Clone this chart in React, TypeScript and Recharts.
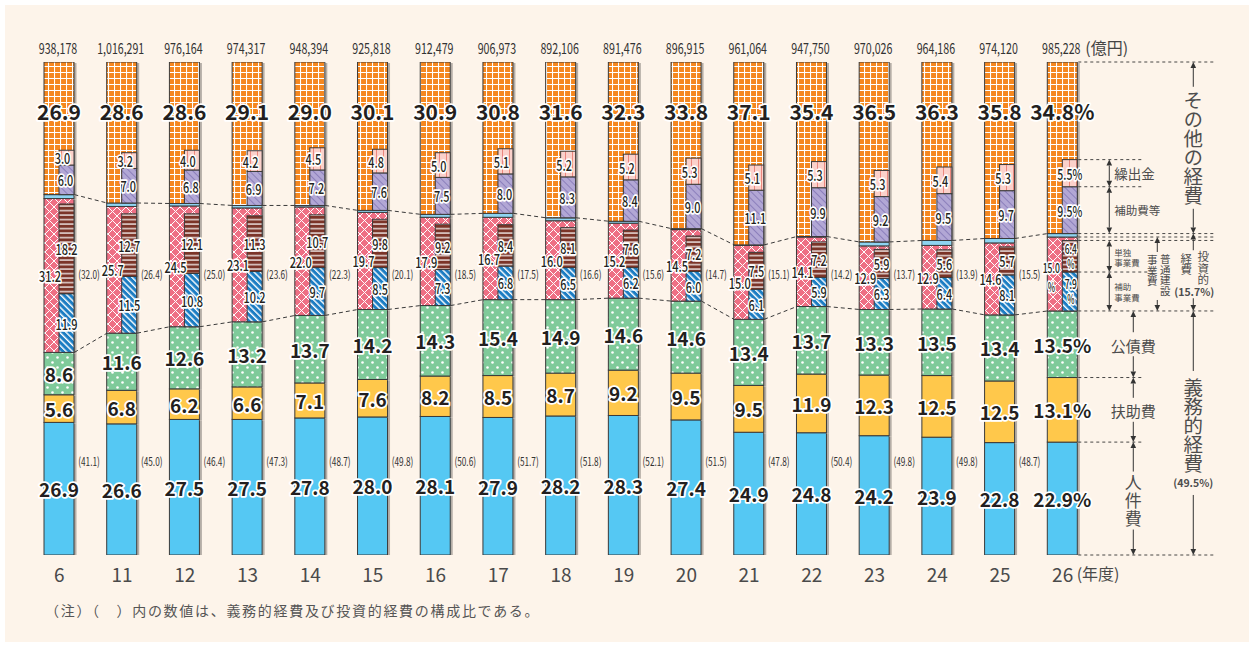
import React from "react";
import { ComposedChart, Bar, Line, XAxis, YAxis, LabelList } from "recharts";

// 年度と歳出総額（億円）
const years = ["6", "11", "12", "13", "14", "15", "16", "17", "18", "19", "20", "21", "22", "23", "24", "25", "26"];
const totals = ["938,178", "1,016,291", "976,164", "974,317", "948,394", "925,818", "912,479", "906,973", "892,106", "891,476", "896,915", "961,064", "947,750", "970,026", "964,186", "974,120", "985,228"];

// 構成比（％）
const personnel = [26.9, 26.6, 27.5, 27.5, 27.8, 28.0, 28.1, 27.9, 28.2, 28.3, 27.4, 24.9, 24.8, 24.2, 23.9, 22.8, 22.9];
const welfare = [5.6, 6.8, 6.2, 6.6, 7.1, 7.6, 8.2, 8.5, 8.7, 9.2, 9.5, 9.5, 11.9, 12.3, 12.5, 12.5, 13.1];
const debt = [8.6, 11.6, 12.6, 13.2, 13.7, 14.2, 14.3, 15.4, 14.9, 14.6, 14.6, 13.4, 13.7, 13.3, 13.5, 13.4, 13.5];
const mandatory = [41.1, 45.0, 46.4, 47.3, 48.7, 49.8, 50.6, 51.7, 51.8, 52.1, 51.5, 47.8, 50.4, 49.8, 49.8, 48.7, 49.5];
const investment = [32.0, 26.4, 25.0, 23.6, 22.3, 20.1, 18.5, 17.5, 16.6, 15.6, 14.7, 15.1, 14.2, 13.7, 13.9, 15.5, 15.7];
const publicWorks = [31.2, 25.7, 24.5, 23.1, 22.0, 19.7, 17.9, 16.7, 16.0, 15.2, 14.5, 15.0, 14.1, 12.9, 12.9, 14.6, 15.0];
const localWorks = [18.2, 12.7, 12.1, 11.3, 10.7, 9.8, 9.2, 8.4, 8.1, 7.6, 7.2, 7.5, 7.2, 5.9, 5.6, 5.7, 6.4];
const subsidizedWorks = [11.9, 11.5, 10.8, 10.2, 9.7, 8.5, 7.3, 6.8, 6.5, 6.2, 6.0, 6.1, 5.9, 6.3, 6.4, 8.1, 7.9];
const otherCosts = [26.9, 28.6, 28.6, 29.1, 29.0, 30.1, 30.9, 30.8, 31.6, 32.3, 33.8, 37.1, 35.4, 36.5, 36.3, 35.8, 34.8];
const subsidies = [6.0, 7.0, 6.8, 6.9, 7.2, 7.6, 7.5, 8.0, 8.3, 8.4, 9.0, 11.1, 9.9, 9.2, 9.5, 9.7, 9.5];
const transfers = [3.0, 3.2, 4.0, 4.2, 4.5, 4.8, 5.0, 5.1, 5.2, 5.2, 5.3, 5.1, 5.3, 5.3, 5.4, 5.3, 5.5];

const LAST = years.length - 1;
const FONT = "'Noto Sans CJK JP', 'Noto Sans', sans-serif";
const BAR = 30;

const rows = years.map((year, i) => {
  const mand = personnel[i] + welfare[i] + debt[i];
  const inv = investment[i];
  return {
    year,
    personnel: personnel[i],
    welfare: welfare[i],
    debt: debt[i],
    works: publicWorks[i],
    worksRest: inv - publicWorks[i],
    other: 100 - mand - inv,
    pad: mand,
    subsidized: subsidizedWorks[i],
    local: localWorks[i],
    gap: inv - subsidizedWorks[i] - localWorks[i],
    subsidies: subsidies[i],
    transfers: transfers[i],
    mandTop: mand,
    invTop: mand + inv,
  };
});

const fmt = (v: number) => v.toFixed(1);

// 詰めた数字の幅
const squeezeWidth = (s: string, dw: number, pw: number) => {
  let w = 0;
  for (const ch of s) {
    if (/[0-9]/.test(ch)) w += dw;
    else if (ch === "%") w += dw * 1.45;
    else w += pw;
  }
  return w;
};

const rectOf = (p: any) => {
  const vb = p.viewBox && p.viewBox.width != null ? p.viewBox : p;
  return { x: Number(vb.x), y: Number(vb.y), w: Number(vb.width), h: Number(vb.height), i: p.index as number };
};

function Halo({ x, y, size, children, weight = 700, len, anchor = "middle" }: any) {
  return (
    <text
      x={x}
      y={y}
      textAnchor={anchor}
      dominantBaseline="central"
      fontFamily={FONT}
      fontSize={size}
      fontWeight={weight}
      fill="#231f20"
      stroke="#fff"
      strokeWidth={3.5}
      strokeLinejoin="round"
      paintOrder="stroke"
      textLength={len}
      lengthAdjust={len ? "spacingAndGlyphs" : undefined}
    >
      {children}
    </text>
  );
}

const small = (x: number, y: number, s: string, dw = 6.4, size = 14.5) => (
  <Halo x={x} y={y} size={size} weight={500} len={squeezeWidth(s, dw, dw * 0.44)}>
    {s}
  </Halo>
);

// 棒の形
const solid = (fill: string) => (p: any) => {
  const { x, y, width, height } = p;
  if (!(height > 0)) return <g />;
  return (
    <g>
      <rect x={x + width} y={y + 1} width={2.5} height={height} fill="#b5aea7" />
      <rect x={x} y={y} width={width} height={height} fill={fill} stroke="#3a3a3a" strokeWidth={1} />
    </g>
  );
};
const half = (fill: string) => (p: any) => {
  const { x, y, width, height } = p;
  if (!(height > 0)) return <g />;
  return <rect x={x + width / 2} y={y} width={width / 2} height={height} fill={fill} stroke="#3a3a3a" strokeWidth={1} />;
};
const blank = () => <g />;

// 棒と棒の間をつなぐ破線
const connector = (p: any) => {
  const { cx, cy, index, points } = p;
  if (!points || index >= points.length - 1) return <g key={`c-${index}`} />;
  const next = points[index + 1];
  return (
    <line
      key={`c-${index}`}
      x1={cx + BAR / 2}
      y1={cy}
      x2={next.x - BAR / 2}
      y2={next.y}
      stroke="#3a3a3a"
      strokeWidth={1}
      strokeDasharray="4 3"
    />
  );
};

// ラベル
const centerLabel = (values: number[]) => (p: any) => {
  const r = rectOf(p);
  const s = fmt(values[r.i]) + (r.i === LAST ? "%" : "");
  return <Halo x={r.x + r.w / 2} y={r.y + r.h / 2} size={19}>{s}</Halo>;
};

const otherLabel = (p: any) => {
  const r = rectOf(p);
  const k = r.h / rows[r.i].other;
  const s = fmt(otherCosts[r.i]) + (r.i === LAST ? "%" : "");
  return (
    <Halo x={r.x + r.w / 2} y={r.y + 10 * k} size={21} weight={600}>
      {s}
    </Halo>
  );
};

const totalLabel = (p: any) => {
  const r = rectOf(p);
  const s = totals[r.i];
  return (
    <g>
      <text x={r.x + r.w / 2 - 1} y={r.y - 15} textAnchor="middle" dominantBaseline="central" fontFamily={FONT} fontSize={15} fill="#333"
        textLength={squeezeWidth(s, 6.0, 2.5)} lengthAdjust="spacingAndGlyphs">
        {s}
      </text>
      {r.i === LAST && (
        <text x={r.x + r.w + 8} y={r.y - 15} dominantBaseline="central" fontFamily={FONT} fontSize={16} fill="#444">
          (億円)
        </text>
      )}
    </g>
  );
};

const parenText = (x: number, y: number, s: string) => (
  <text x={x} y={y} textAnchor="middle" dominantBaseline="central" fontFamily={FONT} fontSize={11.5} fill="#333"
    textLength={squeezeWidth(s, 5, 2.2)} lengthAdjust="spacingAndGlyphs">
    {s}
  </text>
);

const mandatoryParen = (p: any) => {
  const r = rectOf(p);
  if (r.i === LAST) return null;
  const k = r.h / personnel[r.i];
  return parenText(r.x + r.w + 15, r.y + r.h - 19 * k, `(${fmt(mandatory[r.i])})`);
};

const investParen = (p: any) => {
  const r = rectOf(p);
  if (r.i === LAST) return null;
  const k = r.h / publicWorks[r.i];
  const start = rows[r.i].pad;
  return parenText(r.x + r.w + 15, r.y + r.h - (57 - start) * k, `(${fmt(investment[r.i])})`);
};

const worksLabel = (p: any) => {
  const r = rectOf(p);
  const cy = r.y + r.h / 2;
  if (r.i === LAST) {
    const cx = r.x + 4;
    return (
      <g>
        {small(cx, cy - 6, fmt(publicWorks[r.i]), 5, 13)}
        {small(cx, cy + 13, "%", 5, 13)}
      </g>
    );
  }
  return small(r.x + r.w / 2 - 9, cy, fmt(publicWorks[r.i]));
};

const subLabel = (values: number[], dx: number, split: boolean) => (p: any) => {
  const r = rectOf(p);
  const cy = r.y + r.h / 2;
  if (r.i === LAST) {
    const cx = r.x + r.w * 0.75 + 1;
    if (split) {
      return (
        <g>
          {small(cx, cy - 8, fmt(values[r.i]), 5, 13)}
          {small(cx, cy + 7, "%", 5, 13)}
        </g>
      );
    }
    return small(cx - 1, cy, fmt(values[r.i]) + "%");
  }
  return small(r.x + r.w * 0.75 + dx, cy, fmt(values[r.i]));
};

// 右側の凡例（最終年度の棒から位置を取る）
function Panel(p: any) {
  const r = rectOf(p);
  if (r.i !== LAST) return null;
  const i = LAST;
  const k = r.h / personnel[i];
  const base = r.y + r.h;
  const Y = (v: number) => base - v * k;
  const R = r.x + r.w;
  const c1 = personnel[i];
  const c2 = c1 + welfare[i];
  const c3 = c2 + debt[i];
  const c4 = c3 + subsidizedWorks[i];
  const c5 = c4 + localWorks[i];
  const c6 = c3 + publicWorks[i];
  const c7 = c3 + investment[i];
  const c8 = c7 + subsidies[i];
  const c9 = c8 + transfers[i];
  const farX = R + 138;
  const nearX = R + 64;
  const a1 = R + 32, a2 = R + 56, a3 = R + 80, a4 = R + 116;
  const ink = "#333";
  const txt = "#4d4d4d";
  const hs = 6, hw = 2.8;

  const dash = (v: number, x2: number, key: string) => (
    <line key={key} x1={R + 1} x2={x2} y1={Y(v)} y2={Y(v)} stroke={ink} strokeWidth={0.9} strokeDasharray="3 3" />
  );
  const arrow = (key: string, ax: number, yT: number, yB: number, gT?: number, gB?: number) => (
    <g key={key}>
      <polygon points={`${ax},${yT} ${ax - hw},${yT + hs} ${ax + hw},${yT + hs}`} fill={ink} />
      <polygon points={`${ax},${yB} ${ax - hw},${yB - hs} ${ax + hw},${yB - hs}`} fill={ink} />
      {gT == null || gB == null ? (
        <line x1={ax} x2={ax} y1={yT + hs} y2={yB - hs} stroke={ink} strokeWidth={1} />
      ) : (
        <>
          <line x1={ax} x2={ax} y1={yT + hs} y2={gT} stroke={ink} strokeWidth={1} />
          <line x1={ax} x2={ax} y1={gB} y2={yB - hs} stroke={ink} strokeWidth={1} />
        </>
      )}
    </g>
  );
  const t = (key: string, x: number, y: number, s: string, size: number, anchor = "middle", weight = 400) => (
    <text key={key} x={x} y={y} textAnchor={anchor} dominantBaseline="central" fontFamily={FONT} fontSize={size} fontWeight={weight} fill={txt}>
      {s}
    </text>
  );
  // 縦書き
  const vcol = (key: string, x: number, yMid: number, step: number, s: string, size: number) => (
    <text
      key={key}
      x={x}
      y={yMid}
      textAnchor="middle"
      fontFamily={FONT}
      fontSize={size}
      fill={txt}
      letterSpacing={step - size}
      style={{ writingMode: "vertical-rl" }}
    >
      {s}
    </text>
  );

  const mOther = (Y(100) + Y(c7)) / 2;
  const mInv = (Y(c7) + Y(c3)) / 2;
  const mWorks = (Y(c6) + Y(c3)) / 2;
  const mMand = (Y(c3) + Y(0)) / 2;
  const mDebt = (Y(c3) + Y(c2)) / 2;
  const mWel = (Y(c2) + Y(c1)) / 2;
  const mPers = (Y(c1) + Y(0)) / 2;
  const mTr = (Y(c9) + Y(c8)) / 2;
  const mSub = (Y(c8) + Y(c7)) / 2;
  const mLoc = (Y(c5) + Y(c4)) / 2;
  const mSw = (Y(c4) + Y(c3)) / 2;

  return (
    <g>
      {dash(100, farX, "d10")}
      {dash(c9, nearX, "d9")}
      {dash(c8, nearX, "d8")}
      {dash(c7, farX, "d7")}
      {dash(c6, farX, "d6")}
      {dash(c5, farX, "d5")}
      {dash(c4, R + 72, "d4")}
      {dash(c3, farX, "d3")}
      {dash(c2, nearX, "d2")}
      {dash(c1, nearX, "d1")}
      {dash(0, farX, "d0")}

      {arrow("a-tr", a1, Y(c9), Y(c8))}
      {arrow("a-sub", a1, Y(c8), Y(c7))}
      {arrow("a-loc", a1, Y(c5), Y(c4))}
      {arrow("a-sw", a1, Y(c4), Y(c3))}
      {t("t-tr", a1 + 5, mTr, "繰出金", 13.5, "start")}
      {t("t-sub", a1 + 5, mSub, "補助費等", 11.5, "start")}
      {t("t-loc1", a1 + 5, mLoc - 4.5, "単独", 8.5, "start")}
      {t("t-loc2", a1 + 5, mLoc + 5.5, "事業費", 8.5, "start")}
      {t("t-sw1", a1 + 5, mSw - 5, "補助", 8.5, "start")}
      {t("t-sw2", a1 + 5, mSw + 6, "事業費", 8.5, "start")}

      {arrow("a-debt", a2, Y(c3), Y(c2), mDebt - 12, mDebt + 12)}
      {t("t-debt", a2, mDebt + 1, "公債費", 15)}
      {arrow("a-wel", a2, Y(c2), Y(c1), mWel - 12, mWel + 12)}
      {t("t-wel", a2, mWel + 1, "扶助費", 15)}
      {arrow("a-pers", a2, Y(c1), Y(0), mPers - 27, mPers + 31)}
      {vcol("t-pers", a2, mPers + 2, 18, "人件費", 17)}

      {arrow("a-works", a3, Y(c6), Y(c3), mWorks - 22, mWorks + 26)}
      {vcol("t-works1", a3 + 8, mWorks + 1, 10.5, "普通建設", 10.5)}
      {vcol("t-works2", a3 - 5, mWorks - 3, 10.5, "事業費", 10.5)}

      {arrow("a-other", a4, Y(100), Y(c7), mOther - 61, mOther + 61)}
      {vcol("t-other", a4, mOther, 19, "その他の経費", 19.5)}
      {arrow("a-inv", a4, Y(c7), Y(c3), mInv - 22, mInv + 26)}
      {vcol("t-inv1", a4 + 10, mInv - 4, 11.5, "投資的", 11.5)}
      {vcol("t-inv2", a4 - 7, mInv - 8, 11.5, "経費", 11.5)}
      {t("t-inv3", a4 + 1, mInv + 19, `(${fmt(investment[i])}%)`, 10.5, "middle", 700)}
      {arrow("a-mand", a4, Y(c3), Y(0), mMand - 62, mMand + 62)}
      {vcol("t-mand", a4, mMand - 8, 19, "義務的経費", 19.5)}
      {t("t-mand2", a4, mMand + 50, `(${fmt(mandatory[i])}%)`, 10.5, "middle", 700)}
    </g>
  );
}

function YearTick(p: any) {
  const { x, y, payload } = p;
  return (
    <g>
      <text x={x} y={y + 18} textAnchor="middle" dominantBaseline="central" fontFamily={FONT} fontSize={19} fill="#4a4a4a">
        {payload.value}
      </text>
      {payload.value === years[LAST] && (
        <text x={x + 14} y={y + 18} dominantBaseline="central" fontFamily={FONT} fontSize={16} fill="#4a4a4a">
          (年度)
        </text>
      )}
    </g>
  );
}

export default function App() {
  return (
    <div style={{ position: "absolute", left: 0, top: 0, width: 1249, height: 645, background: "#fff" }}>
      <div style={{ position: "absolute", left: 5, top: 5, right: 0, bottom: 3, background: "#fdf4ea" }} />
      <div style={{ position: "absolute", left: 0, top: 0 }}>
        <ComposedChart width={1249} height={645} data={rows} margin={{ top: 62, right: 155, bottom: 60, left: 28 }}>
          <defs>
            <pattern id="pOrange" width="6" height="6" patternUnits="userSpaceOnUse">
              <rect width="6" height="6" fill="#f5871f" />
              <path d="M0 0.5H6M0.5 0V6" stroke="#fff" strokeWidth="1.1" />
            </pattern>
            <pattern id="pGreen" width="10" height="10" patternUnits="userSpaceOnUse">
              <rect width="10" height="10" fill="#7fca9a" />
              <circle cx="2.5" cy="2.5" r="1.3" fill="#fff" />
              <circle cx="7.5" cy="7.5" r="1.3" fill="#fff" />
            </pattern>
            <pattern id="pPink" width="9" height="9" patternUnits="userSpaceOnUse">
              <rect width="9" height="9" fill="#ee6f84" />
              <path d="M0 0L9 9M9 0L0 9" stroke="#fff" strokeWidth="1" />
            </pattern>
            <pattern id="pBlue" width="4.5" height="4.5" patternUnits="userSpaceOnUse" patternTransform="rotate(-45)">
              <rect width="4.5" height="4.5" fill="#1c7dc3" />
              <rect width="1.4" height="4.5" fill="#fff" />
            </pattern>
            <pattern id="pBrown" width="6" height="4.5" patternUnits="userSpaceOnUse">
              <rect width="6" height="4.5" fill="#7b3428" />
              <rect y="3" width="6" height="1.2" fill="#fff" />
            </pattern>
            <pattern id="pPurple" width="5" height="5" patternUnits="userSpaceOnUse" patternTransform="rotate(-45)">
              <rect width="5" height="5" fill="#b2a7d5" />
              <rect width="0.7" height="5" fill="#7a6db0" />
            </pattern>
            <pattern id="pLPink" width="7" height="7" patternUnits="userSpaceOnUse">
              <rect width="7" height="7" fill="#fbd1cb" />
              <rect x="5" width="0.8" height="7" fill="#e8756a" />
            </pattern>
          </defs>
          <XAxis dataKey="year" axisLine={false} tickLine={false} tickSize={0} tickMargin={0} height={30} interval={0} tick={YearTick} />
          <XAxis xAxisId="sub" dataKey="year" hide />
          <YAxis hide domain={[0, 100]} allowDataOverflow />

          <Line dataKey="mandTop" stroke="none" dot={connector} activeDot={false} isAnimationActive={false} />
          <Line dataKey="invTop" stroke="none" dot={connector} activeDot={false} isAnimationActive={false} />

          <Bar dataKey="personnel" stackId="main" barSize={BAR} shape={solid("#55c8f3")} isAnimationActive={false}>
            <LabelList content={centerLabel(personnel)} />
            <LabelList content={mandatoryParen} />
            <LabelList content={Panel} />
          </Bar>
          <Bar dataKey="welfare" stackId="main" barSize={BAR} shape={solid("#ffc84b")} isAnimationActive={false}>
            <LabelList content={centerLabel(welfare)} />
          </Bar>
          <Bar dataKey="debt" stackId="main" barSize={BAR} shape={solid("url(#pGreen)")} isAnimationActive={false}>
            <LabelList content={centerLabel(debt)} />
          </Bar>
          <Bar dataKey="works" stackId="main" barSize={BAR} shape={solid("url(#pPink)")} isAnimationActive={false}>
            <LabelList content={worksLabel} />
            <LabelList content={investParen} />
          </Bar>
          <Bar dataKey="worksRest" stackId="main" barSize={BAR} shape={solid("#8ed4f1")} isAnimationActive={false} />
          <Bar dataKey="other" stackId="main" barSize={BAR} shape={solid("url(#pOrange)")} isAnimationActive={false}>
            <LabelList content={otherLabel} />
            <LabelList content={totalLabel} />
          </Bar>

          <Bar xAxisId="sub" dataKey="pad" stackId="sub" barSize={BAR} shape={blank} isAnimationActive={false} />
          <Bar xAxisId="sub" dataKey="subsidized" stackId="sub" barSize={BAR} shape={half("url(#pBlue)")} isAnimationActive={false}>
            <LabelList content={subLabel(subsidizedWorks, 0, true)} />
          </Bar>
          <Bar xAxisId="sub" dataKey="local" stackId="sub" barSize={BAR} shape={half("url(#pBrown)")} isAnimationActive={false}>
            <LabelList content={subLabel(localWorks, 0, true)} />
          </Bar>
          <Bar xAxisId="sub" dataKey="gap" stackId="sub" barSize={BAR} shape={blank} isAnimationActive={false} />
          <Bar xAxisId="sub" dataKey="subsidies" stackId="sub" barSize={BAR} shape={half("url(#pPurple)")} isAnimationActive={false}>
            <LabelList content={subLabel(subsidies, -1, false)} />
          </Bar>
          <Bar xAxisId="sub" dataKey="transfers" stackId="sub" barSize={BAR} shape={half("url(#pLPink)")} isAnimationActive={false}>
            <LabelList content={subLabel(transfers, -4, false)} />
          </Bar>
        </ComposedChart>
      </div>
      <div
        style={{
          position: "absolute",
          left: 45,
          top: 600,
          fontFamily: FONT,
          fontSize: 14,
          letterSpacing: 1.7,
          color: "#555",
          whiteSpace: "nowrap",
        }}
      >
        （注）（　）内の数値は、義務的経費及び投資的経費の構成比である。
      </div>
    </div>
  );
}
